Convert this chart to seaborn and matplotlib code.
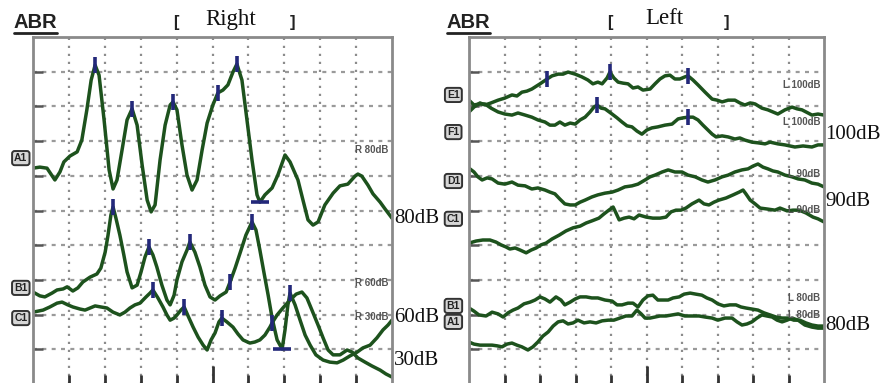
import matplotlib
matplotlib.use("Agg")
import matplotlib.pyplot as plt
import matplotlib.transforms as mtransforms
import seaborn as sns
import pandas as pd

# ---------------- DATA (time in ms, amplitude in grid divisions) ----------------
# Right ear
r80_t = [0.00,0.19,0.39,0.61,0.75,0.86,1.03,1.23,1.36,1.50,1.62,1.73,1.84,1.98,2.12,2.23,2.34,2.48,2.62,2.76,
         2.90,3.04,3.18,3.29,3.40,3.54,3.68,3.82,3.90,4.01,4.15,4.29,4.43,4.57,4.71,4.85,5.01,5.15,5.29,5.43,
         5.57,5.68,5.82,5.96,6.10,6.24,6.32,6.46,6.66,6.82,7.02,7.16,7.38,7.52,7.66,7.80,7.94,8.13,8.36,8.55,
         8.77,8.97,9.05,9.16,9.33,9.47,9.67,9.81,10.00]
r80_v = [6.22,6.25,6.22,5.88,6.11,6.40,6.57,6.69,7.03,7.90,8.76,9.19,8.90,7.61,6.17,5.62,5.88,6.74,7.61,7.93,
         7.46,6.31,5.30,4.96,5.16,6.46,7.46,8.04,8.13,7.90,6.89,6.02,5.59,5.88,6.74,7.52,8.04,8.39,8.47,8.62,
         8.99,9.22,8.76,7.61,6.46,5.45,5.24,5.45,5.65,6.02,6.60,6.40,5.88,5.30,4.73,4.58,4.67,5.16,5.50,5.71,
         5.76,5.99,6.05,5.99,5.73,5.48,5.24,5.04,4.78]

r60_t = [0.00,0.19,0.33,0.53,0.67,0.84,0.95,1.11,1.25,1.39,1.59,1.78,1.89,2.01,2.09,2.17,2.23,2.31,2.42,2.53,
         2.62,2.76,2.90,3.01,3.12,3.23,3.34,3.45,3.59,3.73,3.82,3.93,4.01,4.15,4.29,4.37,4.51,4.65,4.79,4.93,
         5.07,5.21,5.38,5.49,5.63,5.77,5.93,6.10,6.21,6.32,6.43,6.55,6.66,6.80,6.94,7.02,7.10,7.16,7.30,7.44,
         7.58,7.72,7.88,8.08,8.27,8.47,8.64,8.83,9.03,9.19,9.39,9.58,9.75,9.89,10.00]
r60_v = [2.65,2.54,2.51,2.62,2.71,2.74,2.80,2.68,2.77,2.94,3.08,3.17,3.34,3.80,4.29,4.87,5.10,4.78,4.29,3.72,
         3.23,2.77,2.85,3.23,3.66,3.95,3.72,3.37,2.85,2.42,2.28,2.56,3.00,3.52,3.86,4.09,3.80,3.37,2.85,2.51,
         2.42,2.54,2.65,2.94,3.34,3.78,4.29,4.67,4.44,3.86,3.23,2.56,1.90,1.27,1.01,1.56,2.28,2.62,2.28,1.84,
         1.41,1.12,0.84,0.69,0.63,0.61,0.69,0.81,0.92,1.04,1.12,1.33,1.56,1.70,1.84]

r30_t = [0.00,0.14,0.28,0.47,0.67,0.81,0.97,1.11,1.31,1.45,1.59,1.73,1.89,2.06,2.23,2.42,2.56,2.70,2.84,2.98,
         3.15,3.26,3.34,3.48,3.62,3.73,3.82,3.93,4.01,4.12,4.21,4.32,4.46,4.60,4.74,4.85,4.96,5.07,5.18,5.26,
         5.40,5.57,5.71,5.85,6.04,6.18,6.32,6.46,6.60,6.66,6.80,6.96,7.16,7.33,7.49,7.63,7.77,7.94,8.08,8.22,
         8.36,8.55,8.75,8.89,9.05,9.25,9.44,9.67,9.83,10.00]
r30_v = [2.07,2.10,2.13,2.22,2.33,2.36,2.28,2.22,2.16,2.13,2.19,2.25,2.22,2.19,2.07,1.99,2.07,2.19,2.28,2.33,
         2.51,2.62,2.71,2.48,2.22,1.99,1.84,1.90,1.99,2.13,2.22,1.96,1.64,1.35,1.12,0.98,1.27,1.47,1.79,1.90,
         1.79,1.64,1.44,1.27,1.18,1.21,1.27,1.41,1.64,1.76,1.99,2.19,2.42,2.59,2.65,2.48,2.13,1.70,1.33,0.98,
         0.84,0.84,0.98,0.92,0.75,0.63,0.52,0.40,0.29,0.20]

# Left ear
l100a_t = [0.00,0.14,0.31,0.45,0.62,0.82,1.01,1.21,1.35,1.49,1.63,1.77,2.00,2.20,2.34,2.51,2.65,2.79,2.99,3.18,
           3.35,3.49,3.63,3.75,3.89,3.97,4.08,4.20,4.34,4.48,4.62,4.76,4.90,5.10,5.24,5.38,5.52,5.66,5.80,5.94,
           6.08,6.17,6.31,6.45,6.65,6.85,6.99,7.13,7.30,7.49,7.63,7.77,7.92,8.06,8.25,8.42,8.56,8.70,8.90,9.10,
           9.24,9.38,9.55,9.66,9.83,10.00]
l100a_v = [7.84,7.98,8.10,8.04,8.10,8.18,8.24,8.33,8.30,8.41,8.44,8.50,8.65,8.79,8.88,8.93,8.93,8.99,8.93,8.85,
           8.76,8.65,8.70,8.65,8.82,8.99,8.82,8.70,8.67,8.65,8.53,8.56,8.47,8.50,8.65,8.79,8.88,8.90,8.79,8.79,
           8.85,8.88,8.76,8.62,8.41,8.21,8.18,8.13,8.18,8.18,8.10,8.04,8.10,8.07,7.95,7.90,7.84,7.78,7.90,7.98,
           7.93,7.90,7.81,7.75,7.78,7.75]

l100b_t = [0.00,0.14,0.28,0.45,0.62,0.82,1.01,1.21,1.38,1.58,1.77,1.94,2.14,2.28,2.42,2.56,2.70,2.85,2.99,3.13,
           3.27,3.41,3.52,3.61,3.72,3.83,4.03,4.17,4.31,4.45,4.59,4.73,4.87,5.01,5.15,5.32,5.52,5.72,5.89,6.03,
           6.17,6.31,6.45,6.59,6.73,6.85,6.96,7.13,7.30,7.49,7.63,7.77,7.97,8.14,8.34,8.48,8.70,8.90,9.18,9.41,
           9.66,9.83,10.00]
l100b_v = [8.18,8.04,8.07,8.07,7.95,7.84,7.78,7.75,7.81,7.75,7.69,7.61,7.55,7.46,7.46,7.55,7.46,7.52,7.49,7.61,
           7.69,7.84,7.98,8.04,7.95,7.93,7.78,7.67,7.55,7.44,7.41,7.29,7.20,7.32,7.38,7.41,7.46,7.49,7.64,7.67,
           7.69,7.69,7.61,7.46,7.32,7.20,7.12,7.15,7.12,7.06,7.09,7.03,6.97,6.95,6.92,6.97,6.92,6.89,6.83,6.86,
           6.83,6.89,6.89]

l90a_t = [0.00,0.14,0.25,0.37,0.51,0.65,0.82,1.01,1.21,1.38,1.58,1.77,1.94,2.14,2.28,2.42,2.56,2.70,2.85,2.99,
          3.13,3.27,3.46,3.63,3.83,4.03,4.20,4.39,4.59,4.76,4.96,5.10,5.24,5.44,5.61,5.80,6.00,6.17,6.37,6.56,
          6.73,6.93,7.13,7.30,7.49,7.69,7.86,8.00,8.14,8.28,8.42,8.56,8.70,8.90,9.10,9.27,9.46,9.66,9.83,10.00]
l90a_v = [6.22,6.11,5.97,5.88,5.94,5.91,5.79,5.76,5.82,5.73,5.71,5.62,5.65,5.59,5.53,5.48,5.33,5.19,5.16,5.16,
          5.24,5.30,5.39,5.45,5.50,5.53,5.59,5.68,5.71,5.76,5.88,5.97,6.02,6.11,6.17,6.11,6.11,6.02,5.97,5.88,
          5.82,5.88,5.97,6.02,6.11,6.17,6.20,6.28,6.34,6.25,6.20,6.14,6.11,6.02,5.97,5.91,5.88,5.79,5.76,5.68]

l90b_t = [0.00,0.20,0.39,0.59,0.76,0.90,1.04,1.15,1.30,1.44,1.61,1.75,1.89,2.03,2.17,2.34,2.54,2.73,2.93,3.13,
          3.30,3.46,3.66,3.80,3.94,4.06,4.14,4.23,4.37,4.51,4.65,4.79,4.99,5.18,5.38,5.55,5.69,5.83,5.97,6.11,
          6.28,6.48,6.62,6.76,6.90,7.04,7.24,7.44,7.61,7.72,7.80,7.92,8.06,8.20,8.42,8.62,8.76,8.96,9.13,9.30,
          9.49,9.69,9.83,10.00]
l90b_v = [4.06,4.12,4.15,4.15,4.09,4.01,3.95,3.89,3.92,3.86,3.78,3.86,3.92,4.01,4.06,4.18,4.29,4.41,4.50,4.55,
          4.64,4.70,4.78,4.90,5.01,5.10,4.93,4.73,4.78,4.81,4.76,4.87,4.81,4.78,4.78,4.81,4.96,5.01,5.01,5.07,
          5.19,5.30,5.19,5.16,5.24,5.30,5.36,5.45,5.53,5.59,5.48,5.30,5.19,5.07,5.04,5.01,5.07,4.99,5.01,5.01,
          4.93,4.81,4.76,4.67]

l80a_t = [0.00,0.14,0.28,0.48,0.65,0.82,0.96,1.10,1.24,1.38,1.55,1.72,1.86,2.00,2.14,2.28,2.45,2.59,2.70,2.85,
          2.99,3.13,3.30,3.46,3.63,3.83,4.03,4.17,4.31,4.48,4.62,4.76,4.90,5.04,5.18,5.32,5.46,5.61,5.75,5.92,
          6.06,6.23,6.39,6.56,6.70,6.85,7.01,7.18,7.35,7.52,7.66,7.80,7.97,8.14,8.31,8.48,8.65,8.82,8.99,9.15,
          9.32,9.49,9.66,9.83,10.00]
l80a_v = [2.19,2.10,1.99,1.96,2.07,2.02,1.93,2.05,2.13,2.19,2.31,2.36,2.42,2.51,2.45,2.36,2.51,2.42,2.28,2.36,
          2.45,2.51,2.51,2.48,2.48,2.42,2.39,2.28,2.28,2.33,2.33,2.22,2.42,2.54,2.56,2.42,2.42,2.42,2.48,2.51,
          2.59,2.62,2.59,2.56,2.48,2.42,2.31,2.25,2.28,2.28,2.22,2.19,2.16,2.13,2.05,1.99,1.93,1.90,1.90,1.84,
          1.84,1.76,1.70,1.67,1.67]

l80b_t = [0.00,0.14,0.31,0.48,0.65,0.79,0.93,1.07,1.21,1.35,1.49,1.66,1.80,1.94,2.08,2.23,2.37,2.51,2.65,2.79,
          2.93,3.07,3.24,3.41,3.58,3.75,3.92,4.08,4.25,4.42,4.59,4.73,4.85,4.96,5.10,5.24,5.38,5.55,5.72,5.89,
          6.08,6.28,6.48,6.65,6.85,7.01,7.21,7.41,7.55,7.69,7.83,7.97,8.11,8.25,8.39,8.54,8.68,8.82,8.96,9.10,
          9.27,9.46,9.66,9.83,10.00]
l80b_v = [1.21,1.15,1.12,1.12,1.12,1.10,1.07,1.15,1.18,1.12,1.07,0.98,1.07,1.21,1.38,1.50,1.67,1.79,1.82,1.73,
          1.76,1.84,1.76,1.79,1.76,1.82,1.84,1.84,1.90,1.96,1.96,2.13,2.02,1.90,1.90,1.93,1.96,1.96,1.99,2.02,
          1.96,1.96,1.96,1.93,1.90,1.84,1.90,1.90,1.79,1.70,1.73,1.79,1.90,1.99,1.96,1.93,1.84,1.79,1.84,1.90,
          1.84,1.70,1.64,1.61,1.61]

# Peak markers (vertical) and trough markers (horizontal)
right_peak_t = [1.73,2.76,3.90,5.15,5.68, 2.23,3.23,4.37,5.49,6.10,7.16, 3.34,4.21,5.26,6.66]
right_peak_v = [9.19,7.93,8.13,8.39,9.22, 5.10,3.95,4.09,2.94,4.67,2.62, 2.71,2.22,1.90,1.76]
right_trough_t = [6.32, 6.94]
right_trough_v = [5.24, 1.01]
left_peak_t = [2.20,3.97,6.17, 3.61,6.17]
left_peak_v = [8.79,8.99,8.88, 8.04,7.69]

# Labels
right_ids = ["A1", "B1", "C1"]
right_id_v = [6.51, 2.77, 1.90]
right_tags = ["R 80dB", "R 60dB", "R 30dB"]
right_tag_v = [6.74, 2.91, 1.93]
right_side = ["80dB", "60dB", "30dB"]
right_side_v = [4.78, 1.93, 0.69]

left_ids = ["E1", "F1", "D1", "C1", "B1", "A1"]
left_id_v = [8.33, 7.26, 5.85, 4.76, 2.25, 1.79]
left_tags = ["L 100dB", "L 100dB", "L 90dB", "L 90dB", "L 80dB", "L 80dB"]
left_tag_v = [8.62, 7.55, 6.05, 5.01, 2.48, 1.99]
left_side = ["100dB", "90dB", "80dB"]
left_side_v = [7.18, 5.25, 1.70]

# ---------------- FIGURE ----------------
sns.set_theme(style="white")
plt.rcParams["font.family"] = ["Liberation Sans", "DejaVu Sans"]

W, H = 892, 383
fig = plt.figure(figsize=(W / 100, H / 100), dpi=100)
fig.patch.set_facecolor("white")

axL = fig.add_axes([33 / W, -1 / H, 359 / W, 347 / H])
axR = fig.add_axes([469 / W, -1 / H, 355 / W, 347 / H])

TRACE = "#1d521d"
MARK = "#23287a"

for ax in (axL, axR):
    ax.set_xlim(0, 10)
    ax.set_ylim(0, 10)
    ax.set_facecolor("white")
    ax.set_xticks([5])
    ax.set_xticks([1, 2, 3, 4, 6, 7, 8, 9], minor=True)
    ax.set_yticks(range(1, 10))
    ax.set_xticklabels([])
    ax.set_yticklabels([])
    ax.xaxis.grid(True, which="both", linestyle=(0, (1.0, 2.6)), color="#8c8c8c", lw=1.6)
    ax.yaxis.grid(True, which="major", linestyle=(0, (1.8, 2.4)), color="#9a9a9a", lw=1.6)
    ax.tick_params(axis="x", which="major", direction="in", length=13, width=2.0, color="#333333",
                   bottom=True, top=False)
    ax.tick_params(axis="x", which="minor", direction="in", length=6.5, width=2.0, color="#333333",
                   bottom=True, top=False)
    ax.tick_params(axis="y", which="major", direction="in", length=7, width=1.8, color="#555555",
                   left=True, right=False)
    for side in ("left", "top", "right"):
        ax.spines[side].set_color("#8a8a8a")
        ax.spines[side].set_linewidth(2.0)
    ax.spines["bottom"].set_visible(False)
    ax.set_axisbelow(True)

def draw(ax, t, v):
    df = pd.DataFrame({"t": t, "v": v})
    sns.lineplot(data=df, x="t", y="v", ax=ax, color=TRACE, lw=2.5, sort=False,
                 estimator=None, legend=False)

draw(axL, r80_t, r80_v)
draw(axL, r60_t, r60_v)
draw(axL, r30_t, r30_v)
draw(axR, l100a_t, l100a_v)
draw(axR, l100b_t, l100b_v)
draw(axR, l90a_t, l90a_v)
draw(axR, l90b_t, l90b_v)
draw(axR, l80a_t, l80a_v)
draw(axR, l80b_t, l80b_v)

axL.plot(right_peak_t, right_peak_v, ls="none", marker="|", ms=11, mew=2.6, color=MARK, zorder=5)
axL.plot(right_trough_t, right_trough_v, ls="none", marker="_", ms=13, mew=2.6, color=MARK, zorder=5)
axR.plot(left_peak_t, left_peak_v, ls="none", marker="|", ms=11, mew=2.6, color=MARK, zorder=5)

for ax in (axL, axR):
    ax.set_xlabel("")
    ax.set_ylabel("")

# ID boxes and inner tags
def id_boxes(ax, names, vals, xfrac):
    tr = mtransforms.blended_transform_factory(ax.transAxes, ax.transData)
    for n, v in zip(names, vals):
        ax.text(xfrac, v, n, transform=tr, ha="center", va="center", fontsize=7.5,
                fontweight="bold", color="#222222", clip_on=False,
                bbox=dict(boxstyle="round,pad=0.2,rounding_size=0.25", fc="#d6d6d6", ec="#333333", lw=1.4))

def tags(ax, names, vals):
    tr = mtransforms.blended_transform_factory(ax.transAxes, ax.transData)
    for n, v in zip(names, vals):
        ax.text(0.99, v, n, transform=tr, ha="right", va="center", fontsize=7,
                fontweight="bold", color="#555555")

def side(ax, names, vals, xfrac):
    tr = mtransforms.blended_transform_factory(ax.transAxes, ax.transData)
    for n, v in zip(names, vals):
        ax.text(xfrac, v, n, transform=tr, ha="left", va="center", fontsize=15,
                family=["Liberation Serif", "DejaVu Serif"], color="#111111", clip_on=False)

id_boxes(axL, right_ids, right_id_v, -0.034)
id_boxes(axR, left_ids, left_id_v, -0.044)
tags(axL, right_tags, right_tag_v)
tags(axR, left_tags, left_tag_v)
side(axL, right_side, right_side_v, 1.006)
side(axR, left_side, left_side_v, 1.003)

# Headers
def header(x_abr, x_lb, x_title, x_rb, title):
    fig.text(x_abr / W, 1 - 23 / H, "ABR", fontsize=14.5, fontweight="bold", color="#222222",
             ha="left", va="center")
    fig.add_artist(plt.Line2D([x_abr / W, (x_abr + 43) / W], [1 - 33 / H, 1 - 33 / H],
                              color="#222222", lw=2.0))
    fig.text(x_lb / W, 1 - 22 / H, "[", fontsize=12, fontweight="bold", color="#222222",
             ha="center", va="center")
    fig.text(x_rb / W, 1 - 22 / H, "]", fontsize=12, fontweight="bold", color="#222222",
             ha="center", va="center")
    fig.text(x_title / W, 1 - 19 / H, title, fontsize=16.5, color="#111111", ha="center",
             va="center", family=["Liberation Serif", "DejaVu Serif"])

header(14, 176, 231, 292, "Right")
header(447, 610, 664, 726, "Left")

fig.savefig("out.png", dpi=100, facecolor="white")
